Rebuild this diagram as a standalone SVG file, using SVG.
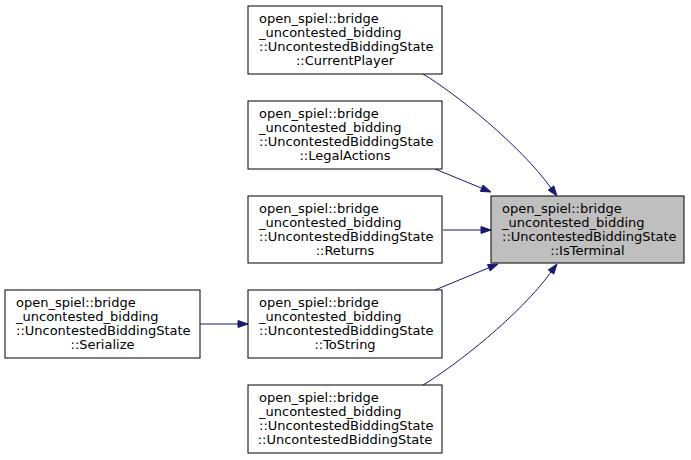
<svg xmlns="http://www.w3.org/2000/svg" width="691" height="460" viewBox="0 0 691 460">
<style>
  .box { fill: #ffffff; stroke: #000000; stroke-width: 1; }
  .cur { fill: #bfbfbf; stroke: #000000; stroke-width: 1; }
  text { font-family: "DejaVu Sans", sans-serif; font-size: 13px; fill: #000000; }
  .mid { text-anchor: middle; }
  .edge { fill: none; stroke: #191970; stroke-width: 1; }
  .head { fill: #191970; stroke: #191970; stroke-width: 1; }
</style>
<rect width="691" height="460" fill="#ffffff"/>

<g id="connectors">
  <path class="edge" d="M423,74 C455,93 520,145 551,188"/>
  <polygon class="head" points="557,196 548.2,190.1 553.8,185.9"/>
  <path class="edge" d="M435,169 L481.7,188.2"/>
  <polygon class="head" points="491,192 480.4,191.4 483,185"/>
  <path class="edge" d="M443,230 L481,230"/>
  <polygon class="head" points="491,230 481,226.5 481,233.5"/>
  <path class="edge" d="M435,290 L488.8,267.8"/>
  <polygon class="head" points="498,264 490.1,271 487.5,264.6"/>
  <path class="edge" d="M423,385 C455,366 520,315 551,272"/>
  <polygon class="head" points="557,264 553.8,274.1 548.2,269.9"/>
  <path class="edge" d="M200,324 L238,324"/>
  <polygon class="head" points="248,324 238,320.5 238,327.5"/>
</g>

<g id="node-isterminal">
  <rect class="cur" x="491" y="196" width="193" height="67"/>
  <text x="502" y="213">open_spiel::bridge</text>
  <text x="502" y="227">_uncontested_bidding</text>
  <text x="502" y="241">::UncontestedBiddingState</text>
  <text class="mid" x="587.5" y="255">::IsTerminal</text>
</g>

<g id="node-currentplayer">
  <rect class="box" x="248" y="6" width="194" height="68"/>
  <text x="259" y="23">open_spiel::bridge</text>
  <text x="259" y="37">_uncontested_bidding</text>
  <text x="259" y="51">::UncontestedBiddingState</text>
  <text class="mid" x="345" y="65">::CurrentPlayer</text>
</g>

<g id="node-legalactions">
  <rect class="box" x="248" y="101" width="194" height="68"/>
  <text x="259" y="118">open_spiel::bridge</text>
  <text x="259" y="132">_uncontested_bidding</text>
  <text x="259" y="146">::UncontestedBiddingState</text>
  <text class="mid" x="345" y="160">::LegalActions</text>
</g>

<g id="node-returns">
  <rect class="box" x="248" y="196" width="194" height="67"/>
  <text x="259" y="213">open_spiel::bridge</text>
  <text x="259" y="227">_uncontested_bidding</text>
  <text x="259" y="241">::UncontestedBiddingState</text>
  <text class="mid" x="345" y="255">::Returns</text>
</g>

<g id="node-tostring">
  <rect class="box" x="248" y="290" width="194" height="68"/>
  <text x="259" y="307">open_spiel::bridge</text>
  <text x="259" y="321">_uncontested_bidding</text>
  <text x="259" y="335">::UncontestedBiddingState</text>
  <text class="mid" x="345" y="349">::ToString</text>
</g>

<g id="node-ctor">
  <rect class="box" x="248" y="385" width="194" height="68"/>
  <text x="259" y="402">open_spiel::bridge</text>
  <text x="259" y="416">_uncontested_bidding</text>
  <text x="259" y="430">::UncontestedBiddingState</text>
  <text class="mid" x="345" y="444">::UncontestedBiddingState</text>
</g>

<g id="node-serialize">
  <rect class="box" x="5" y="290" width="195" height="68"/>
  <text x="16" y="307">open_spiel::bridge</text>
  <text x="16" y="321">_uncontested_bidding</text>
  <text x="16" y="335">::UncontestedBiddingState</text>
  <text class="mid" x="102.5" y="349">::Serialize</text>
</g>
</svg>
